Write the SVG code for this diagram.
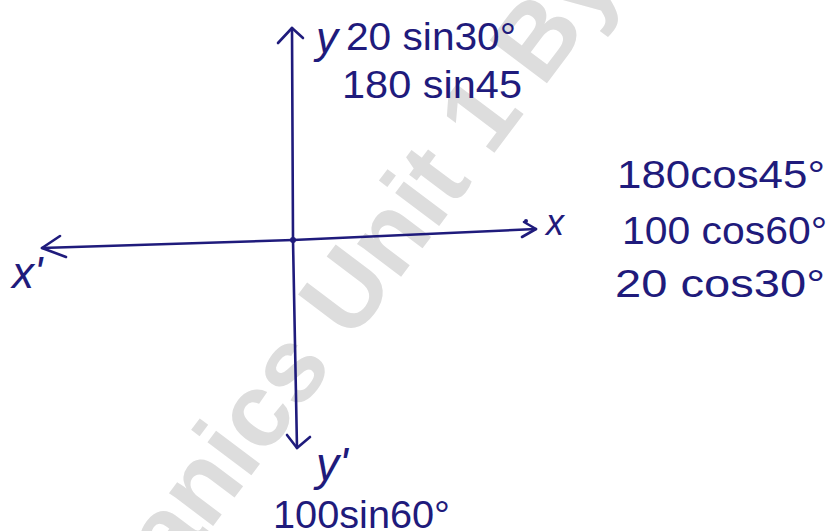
<svg xmlns="http://www.w3.org/2000/svg" width="831" height="531" viewBox="0 0 831 531">
  <style>
    .ink { fill: none; stroke: #1f1b7c; stroke-width: 2.6; stroke-linecap: round; stroke-linejoin: round; }
    .lbl { font-family: "Liberation Sans", "DejaVu Sans", sans-serif; fill: #1f1b7c; font-size: 38px; }
    .ax { font-family: "Liberation Sans", "DejaVu Sans", sans-serif; fill: #1f1b7c; font-style: italic; }
    .wm { font-family: "Liberation Sans", Arial, sans-serif; font-weight: bold; fill: #dddddd; font-size: 104px; }
  </style>
  <rect width="831" height="531" fill="#ffffff"/>

  <!-- watermark -->
  <text class="wm" transform="translate(174 578) rotate(-53)">anics Unit 1 By</text>

  <!-- axes / connectors -->
  <g id="connectors">
    <path class="ink" d="M292 28 L293 240 L297 448"/>
    <path class="ink" d="M42 248 L293 240 L536 229"/>
    <polyline class="ink" points="278,43 292,28 303,38"/>
    <polyline class="ink" points="287,435 297,448 310,437"/>
    <polyline class="ink" points="60,236 42,248 66,257"/>
    <polyline class="ink" points="524,222 536,229 522,237"/>
    <circle cx="293" cy="240" r="3" fill="#1f1b7c"/>
    <circle cx="526" cy="221" r="2" fill="#1f1b7c"/>
  </g>

  <g id="axis-y">
    <text class="ax" x="316" y="53" font-size="44">y</text>
  </g>
  <g id="axis-x">
    <text class="ax" x="546" y="235" font-size="36">x</text>
  </g>
  <g id="axis-x-prime">
    <text class="ax" x="12" y="288" font-size="44">x'</text>
  </g>
  <g id="axis-y-prime">
    <text class="ax" x="316" y="480" font-size="46">y'</text>
  </g>

  <g id="label-y-components">
    <text class="lbl" x="346" y="50" textLength="170" lengthAdjust="spacingAndGlyphs">20 sin30°</text>
    <text class="lbl" x="342" y="98" textLength="180" lengthAdjust="spacingAndGlyphs">180 sin45</text>
  </g>

  <g id="label-x-components">
    <text class="lbl" x="617" y="188" textLength="208" lengthAdjust="spacingAndGlyphs">180cos45°</text>
    <text class="lbl" x="622" y="244" textLength="205" lengthAdjust="spacingAndGlyphs">100 cos60°</text>
    <text class="lbl" x="615" y="297" textLength="210" lengthAdjust="spacingAndGlyphs">20 cos30°</text>
  </g>

  <g id="label-y-prime-components">
    <text class="lbl" x="273" y="528" textLength="177" lengthAdjust="spacingAndGlyphs">100sin60°</text>
  </g>
</svg>
